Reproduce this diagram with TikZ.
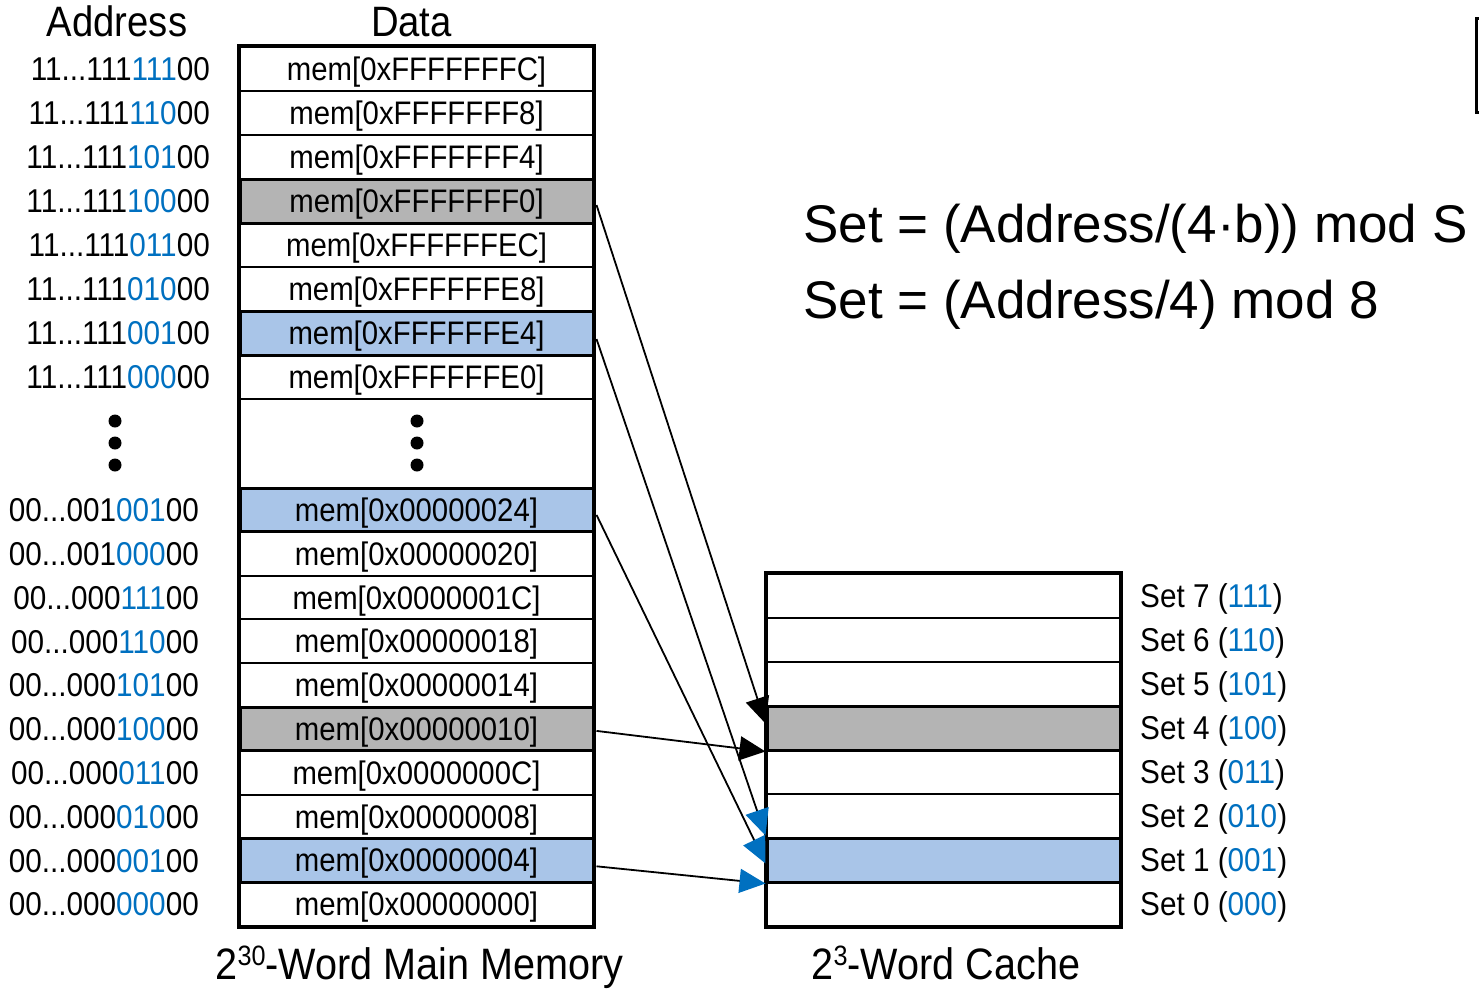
\documentclass[tikz,border=0pt]{standalone}
\usepackage{fontspec}
\setmainfont{Liberation Sans}
\newfontfamily\condfont{Liberation Sans}[FakeStretch=0.9]
\usetikzlibrary{arrows.meta,calc}
\definecolor{bitblue}{RGB}{0,112,192}
\definecolor{hiblue}{RGB}{169,197,232}
\definecolor{higray}{RGB}{180,180,180}
% address with the set-index bits coloured
\newcommand\addrbits[3]{#1\textcolor{bitblue}{#2}#3}
\newcommand\setlbl[2]{Set #1 (\textcolor{bitblue}{#2})}
\newcommand\powsup[1]{\raisebox{14pt}{\fontsize{28}{30}\selectfont #1}}
\begin{document}
\begin{tikzpicture}[x=1pt,y=-1pt,
  memcell/.style={draw, line width=2pt, minimum width=353pt, minimum height=44pt,
    inner sep=0pt, text height=23.3pt, text depth=0pt,
    font=\condfont\fontsize{32.6}{36}\selectfont},
  memlow/.style={memcell, minimum height=43.8pt},
  hot/.style={line width=3pt},
  cachecell/.style={draw, line width=2pt, minimum width=353pt, minimum height=44pt, inner sep=0pt},
  addrlbl/.style={anchor=east, inner sep=0pt, text height=23.6pt, text depth=0pt,
    font=\condfont\fontsize{33}{37}\selectfont},
  setname/.style={anchor=west, inner sep=0pt, text height=23.6pt, text depth=0pt,
    font=\condfont\fontsize{33}{37}\selectfont},
  header/.style={anchor=base, inner sep=0pt, font=\condfont\fontsize{42.5}{46}\selectfont},
  caption/.style={anchor=base, inner sep=0pt, font=\condfont\fontsize{44}{48}\selectfont},
  formula/.style={anchor=base west, inner sep=0pt, font=\fontsize{53}{60}\selectfont},
  frame/.style={draw, line width=3.5pt},
  dot/.style={fill, circle, inner sep=0pt, minimum size=13pt},
  link/.style={line width=1.8pt},
  blackhead/.style={link, -{Triangle[length=26pt,width=24pt]}},
  bluehead/.style={link, -{Triangle[length=26pt,width=24pt,color=bitblue]}}
]
\useasboundingbox (0,0) rectangle (1479,990);

% headers
\node[header] (hAddr) at (117,37) {Address};
\node[header] (hData) at (411.5,37) {Data};

% main memory: upper words
\node[memcell] (m0) at (416.5,69) {mem[0xFFFFFFFC]};
\node[memcell] (m1) at (416.5,113) {mem[0xFFFFFFF8]};
\node[memcell] (m2) at (416.5,157) {mem[0xFFFFFFF4]};
\node[memcell,hot,fill=higray] (m3) at (416.5,201) {mem[0xFFFFFFF0]};
\node[memcell] (m4) at (416.5,245) {mem[0xFFFFFFEC]};
\node[memcell] (m5) at (416.5,289) {mem[0xFFFFFFE8]};
\node[memcell,hot,fill=hiblue] (m6) at (416.5,333) {mem[0xFFFFFFE4]};
\node[memcell] (m7) at (416.5,377) {mem[0xFFFFFFE0]};
% gap
\node[memcell, minimum height=89pt] (mg) at (416.5,443.5) {};
\node[dot] (gd1) at (417,421) {};
\node[dot] (gd2) at (417,443) {};
\node[dot] (gd3) at (417,465) {};
% main memory: lower words
\node[memlow,hot,fill=hiblue] (m8) at (416.5,509.9) {mem[0x00000024]};
\node[memlow] (m9) at (416.5,553.7) {mem[0x00000020]};
\node[memlow] (m10) at (416.5,597.5) {mem[0x0000001C]};
\node[memlow] (m11) at (416.5,641.3) {mem[0x00000018]};
\node[memlow] (m12) at (416.5,685.1) {mem[0x00000014]};
\node[memlow,hot,fill=higray] (m13) at (416.5,728.9) {mem[0x00000010]};
\node[memlow] (m14) at (416.5,772.7) {mem[0x0000000C]};
\node[memlow] (m15) at (416.5,816.5) {mem[0x00000008]};
\node[memlow,hot,fill=hiblue] (m16) at (416.5,860.3) {mem[0x00000004]};
\node[memlow] (m17) at (416.5,904.1) {mem[0x00000000]};
\draw[frame] (m0.north west) rectangle (m17.south east);

% addresses
\node[addrlbl] (a0) at (210,69) {\addrbits{11...111}{111}{00}};
\node[addrlbl] (a1) at (210,113) {\addrbits{11...111}{110}{00}};
\node[addrlbl] (a2) at (210,157) {\addrbits{11...111}{101}{00}};
\node[addrlbl] (a3) at (210,201) {\addrbits{11...111}{100}{00}};
\node[addrlbl] (a4) at (210,245) {\addrbits{11...111}{011}{00}};
\node[addrlbl] (a5) at (210,289) {\addrbits{11...111}{010}{00}};
\node[addrlbl] (a6) at (210,333) {\addrbits{11...111}{001}{00}};
\node[addrlbl] (a7) at (210,377) {\addrbits{11...111}{000}{00}};
\node[dot] (ad1) at (115,421) {};
\node[dot] (ad2) at (115,443) {};
\node[dot] (ad3) at (115,465) {};
\node[addrlbl] (a8) at (199,509.9) {\addrbits{00...001}{001}{00}};
\node[addrlbl] (a9) at (199,553.7) {\addrbits{00...001}{000}{00}};
\node[addrlbl] (a10) at (199,597.5) {\addrbits{00...000}{111}{00}};
\node[addrlbl] (a11) at (199,641.3) {\addrbits{00...000}{110}{00}};
\node[addrlbl] (a12) at (199,685.1) {\addrbits{00...000}{101}{00}};
\node[addrlbl] (a13) at (199,728.9) {\addrbits{00...000}{100}{00}};
\node[addrlbl] (a14) at (199,772.7) {\addrbits{00...000}{011}{00}};
\node[addrlbl] (a15) at (199,816.5) {\addrbits{00...000}{010}{00}};
\node[addrlbl] (a16) at (199,860.3) {\addrbits{00...000}{001}{00}};
\node[addrlbl] (a17) at (199,904.1) {\addrbits{00...000}{000}{00}};

% cache sets
\node[cachecell] (c7) at (943.5,596) {};
\node[cachecell] (c6) at (943.5,640) {};
\node[cachecell] (c5) at (943.5,684) {};
\node[cachecell,hot,fill=higray] (c4) at (943.5,728) {};
\node[cachecell] (c3) at (943.5,772) {};
\node[cachecell] (c2) at (943.5,816) {};
\node[cachecell,hot,fill=hiblue] (c1) at (943.5,860) {};
\node[cachecell] (c0) at (943.5,904) {};
\draw[frame] (c7.north west) rectangle (c0.south east);

\node[setname] (s7) at (1140,596) {\setlbl{7}{111}};
\node[setname] (s6) at (1140,640) {\setlbl{6}{110}};
\node[setname] (s5) at (1140,684) {\setlbl{5}{101}};
\node[setname] (s4) at (1140,728) {\setlbl{4}{100}};
\node[setname] (s3) at (1140,772) {\setlbl{3}{011}};
\node[setname] (s2) at (1140,816) {\setlbl{2}{010}};
\node[setname] (s1) at (1140,860) {\setlbl{1}{001}};
\node[setname] (s0) at (1140,904) {\setlbl{0}{000}};

% mapping of words to sets
\draw[blackhead] ($(m3.east)+(2,4)$) -- ($(c4.north west)+(0,19)$);
\draw[blackhead] ($(m13.east)+(2,2)$) -- (c4.south west);
\draw[bluehead] ($(m6.east)+(2,6)$) -- ($(c1.north west)+(0,-1)$);
\draw[bluehead] ($(m8.east)+(2,5)$) -- ($(c1.north west)+(0,27)$);
\draw[bluehead] ($(m16.east)+(2,6)$) -- (c1.south west);

% captions
\node[caption] (capMem) at (419.5,979) {2\powsup{30}-Word Main Memory};
\node[caption] (capCache) at (946,979) {2\powsup{3}-Word Cache};

% set index formulas
\node[formula] (f1) at (803,242) {Set = (Address/(4·b)) mod S};
\node[formula] (f2) at (803,318) {Set = (Address/4) mod 8};

% box edge at the right margin
\draw[line width=3pt] (1492,19) -- (1476,19) -- (1476,112) -- (1492,112);
\end{tikzpicture}
\end{document}
